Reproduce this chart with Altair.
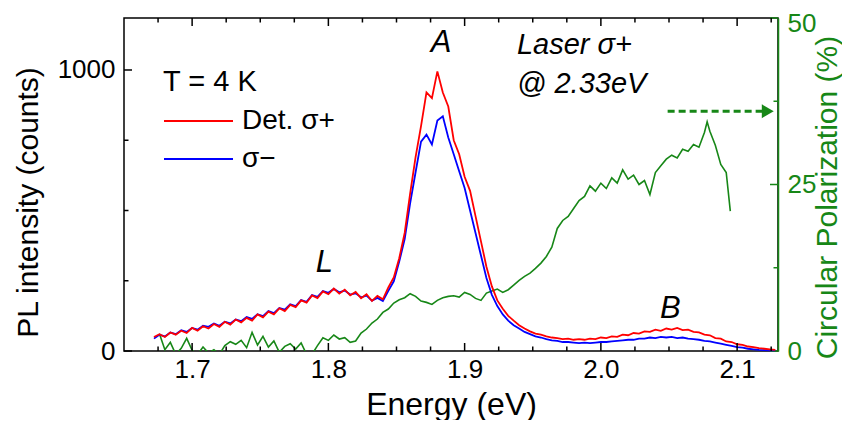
import altair as alt
import pandas as pd

# ---------------- data ----------------
energy = [
    1.672, 1.676, 1.680, 1.684, 1.688, 1.692, 1.696, 1.700, 1.704, 1.708,
    1.712, 1.716, 1.720, 1.724, 1.728, 1.732, 1.736, 1.740, 1.744, 1.748,
    1.752, 1.756, 1.760, 1.764, 1.768, 1.772, 1.776, 1.780, 1.784, 1.788,
    1.792, 1.796, 1.800, 1.804, 1.808, 1.812, 1.816, 1.820, 1.824, 1.828,
    1.832, 1.836, 1.840, 1.844, 1.848, 1.852, 1.856, 1.860, 1.864, 1.868,
    1.872, 1.876, 1.880, 1.884, 1.888, 1.892, 1.896, 1.900, 1.904, 1.908,
    1.912, 1.916, 1.920, 1.924, 1.928, 1.932, 1.936, 1.940, 1.944, 1.948,
    1.952, 1.956, 1.960, 1.964, 1.968, 1.972, 1.976, 1.980, 1.984, 1.988,
    1.992, 1.996, 2.000, 2.004, 2.008, 2.012, 2.016, 2.020, 2.024, 2.028,
    2.032, 2.036, 2.040, 2.044, 2.048, 2.052, 2.056, 2.060, 2.064, 2.068,
    2.072, 2.076, 2.080, 2.084, 2.088, 2.092, 2.096, 2.100, 2.104, 2.108,
    2.112, 2.116, 2.120, 2.124, 2.128,
]

red_counts = [
    50, 60, 50, 66, 58, 72, 64, 82, 72, 88,
    80, 96, 86, 104, 94, 112, 102, 118, 108, 130,
    120, 140, 130, 152, 142, 164, 156, 180, 172, 198,
    188, 212, 202, 222, 204, 218, 198, 210, 188, 202,
    178, 196, 184, 226, 262, 330, 420, 560, 690, 800,
    920, 900, 995, 920, 870, 750, 700, 620, 570, 480,
    390, 300, 230, 180, 150, 125, 108, 92, 80, 70,
    62, 58, 52, 48, 46, 42, 44, 40, 42, 40,
    44, 42, 48, 46, 52, 50, 58, 56, 64, 62,
    70, 68, 76, 72, 80, 76, 82, 74, 76, 68,
    66, 58, 56, 46, 44, 34, 32, 24, 22, 16,
    14, 10, 8, 6, 4,
]

blue_counts = [
    44, 58, 52, 66, 60, 74, 68, 82, 76, 90,
    86, 98, 90, 104, 98, 112, 106, 121, 114, 131,
    124, 142, 135, 153, 147, 166, 160, 181, 175, 199,
    193, 213, 207, 221, 209, 215, 201, 205, 191, 197,
    179, 189, 178, 214, 248, 318, 398, 525, 636, 745,
    770, 735, 820, 835, 760, 700, 640, 580, 500, 420,
    340, 260, 200, 160, 130, 108, 92, 80, 68, 60,
    52, 48, 42, 38, 36, 32, 32, 30, 28, 30,
    28, 30, 32, 32, 34, 36, 38, 40, 40, 44,
    44, 48, 46, 50, 48, 50, 46, 48, 44, 42,
    40, 36, 34, 30, 26, 22, 18, 14, 12, 8,
    6, 4, 3, 2, 2,
]

pol_energy = [
    1.676, 1.680, 1.684, 1.688, 1.692, 1.696, 1.700, 1.704, 1.708, 1.712,
    1.716, 1.720, 1.724, 1.728, 1.732, 1.736, 1.740, 1.744, 1.748, 1.752,
    1.756, 1.760, 1.764, 1.768, 1.772, 1.776, 1.780, 1.784, 1.788, 1.792,
    1.796, 1.800, 1.804, 1.808, 1.812, 1.816, 1.820, 1.824, 1.828, 1.832,
    1.836, 1.840, 1.844, 1.848, 1.852, 1.856, 1.860, 1.864, 1.868, 1.872,
    1.876, 1.880, 1.884, 1.888, 1.892, 1.896, 1.900, 1.904, 1.908, 1.912,
    1.916, 1.920, 1.924, 1.928, 1.932, 1.936, 1.940, 1.944, 1.948, 1.952,
    1.956, 1.960, 1.964, 1.968, 1.972, 1.976, 1.980, 1.984, 1.988, 1.992,
    1.996, 2.000, 2.004, 2.008, 2.012, 2.016, 2.020, 2.024, 2.028, 2.032,
    2.036, 2.040, 2.044, 2.048, 2.052, 2.056, 2.060, 2.064, 2.068, 2.072,
    2.076, 2.078, 2.080, 2.084, 2.088, 2.092, 2.095,
]

pol_values = [
    2.6, 0.2, 1.3, -0.5, 0.4, 1.9, 0.1, -0.5, 0.6, -0.3,
    0.2, -0.5, 0.8, 1.4, 1.0, 1.6, 0.5, 2.8, 0.9, 2.2,
    0.6, 1.5, -0.2, 0.7, 1.1, 0.3, 1.2, -0.5, -0.5, 0.8,
    2.0, 1.6, 2.4, 1.8, 2.0, 1.3, 1.5, 2.7, 3.3, 4.2,
    4.8, 5.8, 6.3, 7.2, 7.7, 8.0, 8.6, 8.2, 7.5, 7.3,
    7.0, 7.6, 8.0, 8.2, 8.3, 8.1, 8.8, 8.5, 7.9, 7.6,
    8.7, 9.0, 9.3, 8.8, 9.2, 9.9, 10.6, 11.2, 11.7, 12.4,
    13.2, 14.2, 15.6, 18.4, 19.6, 20.2, 21.4, 22.6, 23.2, 24.8,
    24.0, 25.2, 24.4, 26.0, 25.2, 27.2, 25.8, 26.4, 25.0, 25.6,
    23.5, 26.8, 27.8, 28.8, 29.4, 29.0, 30.3, 30.0, 31.0, 30.6,
    32.8, 34.4, 33.0, 30.9, 28.0, 26.8, 21.0,
]

series_names = ["Det. σ+", "σ−"]
series_colors = ["#ff0000", "#0000ff"]

x_ticks_major = [1.7, 1.8, 1.9, 2.0, 2.1]
x_ticks_minor = [1.675, 1.725, 1.75, 1.775, 1.825, 1.85, 1.875, 1.925, 1.95,
                 1.975, 2.025, 2.05, 2.075, 2.125]
int_ticks_major = [0, 1000]
int_ticks_minor = [250, 500, 750]
pol_ticks_major = [0, 25, 50]
pol_ticks_minor = [12.5, 37.5]

peak_labels = ["A", "L", "B"]
peak_energy = [1.8827, 1.797, 2.051]
peak_counts = [1064, 281, 117]

laser_lines = ["Laser σ+", "@ 2.33eV"]
laser_energy = [1.9384, 1.9384]
laser_counts = [1057, 918]

arrow_energy = [2.049, 2.119]
arrow_pol = [36.0, 36.0]
arrow_head_energy = [2.1225]

# ---------------- styling ----------------
W, H = 654, 333
FONT = "Liberation Sans"
GREEN = "#178717"
MAJ, MIN = 8, 4.5

xscale = alt.Scale(domain=[1.65, 2.13], nice=False, zero=False)
iscale = alt.Scale(domain=[0, 1185], nice=False, zero=False)
pscale = alt.Scale(domain=[0, 50], nice=False, zero=False)

x_axis = alt.Axis(orient="bottom", values=x_ticks_major, format=".1f", ticks=False,
                  domain=False, grid=False, labelFontSize=26, labelPadding=5,
                  labelColor="black", title="Energy (eV)", titleFontSize=32,
                  titlePadding=7, titleColor="black")

int_axis = alt.Axis(orient="left", values=int_ticks_major, format="d", ticks=False,
                    domain=False, grid=False, labelFontSize=26, labelPadding=9,
                    labelColor="black",
                    title="PL intensity (counts)", titleFontSize=30, titleColor="black",
                    titleAngle=270, titleX=-96, titleY=184, titleAlign="center",
                    titleBaseline="middle")

pol_axis = alt.Axis(orient="right", values=pol_ticks_major, format="d", ticks=False,
                    domain=True, domainColor=GREEN, domainWidth=1.5, grid=False,
                    labelFontSize=26, labelPadding=9, labelColor=GREEN,
                    labelOffset={"condition": {"test": "datum.value === 50", "value": 5},
                                 "value": 0},
                    title="Circular Polarization (%)", titleFontSize=30,
                    titleColor=GREEN, titleAngle=270, titleX=49, titleY=179,
                    titleAlign="center", titleBaseline="middle")

legend = alt.Legend(orient="none", legendX=39, legendY=50, title="T = 4 K",
                    titleFontSize=29, titleFontWeight="normal", titleColor="black",
                    titleFont=FONT, labelFont=FONT, labelFontSize=28,
                    labelColor="black", symbolType="stroke", symbolSize=4761,
                    symbolStrokeWidth=2, labelOffset=8, rowPadding=10,
                    clipHeight=28, titlePadding=10, padding=0)

color = alt.Color("series:N", scale=alt.Scale(domain=series_names, range=series_colors),
                  legend=legend)

red_df = pd.DataFrame({"E": energy, "I": red_counts, "series": series_names[0]})
blue_df = pd.DataFrame({"E": energy, "I": blue_counts, "series": series_names[1]})
pol_df = pd.DataFrame({"E": pol_energy, "P": pol_values})


def xenc():
    return alt.X("E:Q", scale=xscale, axis=x_axis)


layers = []

# green polarization (right axis)
layers.append(alt.Chart(pol_df).mark_line(color=GREEN, strokeWidth=1.6, clip=True).encode(
    x=xenc(),
    y=alt.Y("P:Q", scale=pscale, axis=pol_axis),
))
layers.append(alt.Chart(pd.DataFrame({"E": arrow_energy, "P": arrow_pol})).mark_line(
    color=GREEN, strokeWidth=3, strokeDash=[7, 4]).encode(
    x=xenc(), y=alt.Y("P:Q", scale=pscale, axis=None),
))
layers.append(alt.Chart(pd.DataFrame({"E": arrow_head_energy, "P": [arrow_pol[0]]})).mark_point(
    shape="triangle-right", filled=True, size=190, color=GREEN, opacity=1).encode(
    x=xenc(), y=alt.Y("P:Q", scale=pscale, axis=None),
))
for vals, ln in [(pol_ticks_major, MAJ), (pol_ticks_minor, MIN)]:
    layers.append(
        alt.Chart(pd.DataFrame({"P": vals})).mark_rule(color=GREEN, strokeWidth=1.5).encode(
            y=alt.Y("P:Q", scale=pscale, axis=None),
            x=alt.value(W), x2=alt.value(W - ln),
        )
    )

# intensity (left axis)
layers.append(alt.Chart(blue_df).mark_line(strokeWidth=1.8).encode(
    x=xenc(), y=alt.Y("I:Q", scale=iscale, axis=None), color=color,
))
layers.append(alt.Chart(red_df).mark_line(strokeWidth=1.8).encode(
    x=xenc(), y=alt.Y("I:Q", scale=iscale, axis=int_axis), color=color,
))
layers.append(alt.Chart(pd.DataFrame({"E": peak_energy, "I": peak_counts, "t": peak_labels})).mark_text(
    font=FONT, fontSize=31, fontStyle="italic", align="center", baseline="alphabetic",
    color="black").encode(
    x=xenc(), y=alt.Y("I:Q", scale=iscale, axis=None), text="t:N",
))
layers.append(alt.Chart(pd.DataFrame({"E": laser_energy, "I": laser_counts, "t": laser_lines})).mark_text(
    font=FONT, fontSize=29, fontStyle="italic", align="left", baseline="alphabetic",
    color="black").encode(
    x=xenc(), y=alt.Y("I:Q", scale=iscale, axis=None), text="t:N",
))
for vals, ln in [(int_ticks_major, MAJ), (int_ticks_minor, MIN)]:
    layers.append(
        alt.Chart(pd.DataFrame({"I": vals})).mark_rule(color="black", strokeWidth=1.5).encode(
            y=alt.Y("I:Q", scale=iscale, axis=None),
            x=alt.value(0), x2=alt.value(ln),
        )
    )
for vals, ln in [(x_ticks_major, MAJ), (x_ticks_minor, MIN)]:
    dfv = pd.DataFrame({"E": vals})
    layers.append(alt.Chart(dfv).mark_rule(color="black", strokeWidth=1.5).encode(
        x=xenc(), y=alt.value(H), y2=alt.value(H - ln)))
    layers.append(alt.Chart(dfv).mark_rule(color="black", strokeWidth=1.5).encode(
        x=xenc(), y=alt.value(0), y2=alt.value(ln)))

chart = alt.layer(*layers).resolve_scale(y="independent").properties(
    width=W, height=H, background="white",
    padding={"left": 5, "top": 2, "right": 0, "bottom": 0},
).configure_view(stroke="black", strokeWidth=1.5).configure_axis(
    labelFont=FONT, titleFont=FONT, titleFontWeight="normal"
)

chart.save("out.html", embed_options={"renderer": "svg", "actions": False})
